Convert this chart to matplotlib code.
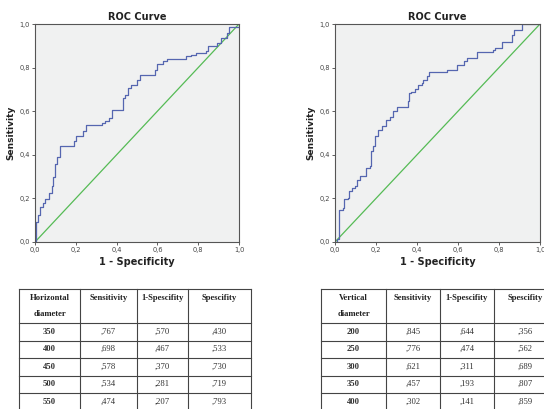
import matplotlib
matplotlib.use("Agg")
import matplotlib.pyplot as plt
from matplotlib.ticker import FuncFormatter

# ROC curve step vertices (1-specificity, sensitivity)
h_fpr = [0.0, 0.003, 0.006, 0.013, 0.023, 0.037, 0.047, 0.07, 0.083, 0.09, 0.10, 0.11, 0.124,
         0.19, 0.2, 0.235, 0.25, 0.33, 0.345, 0.365, 0.376, 0.43, 0.44, 0.458, 0.47, 0.5,
         0.515, 0.588, 0.596, 0.625, 0.645, 0.742, 0.767, 0.79, 0.84, 0.848, 0.89, 0.914,
         0.94, 0.951, 1.0]
h_tpr = [0.0, 0.06, 0.09, 0.125, 0.16, 0.18, 0.195, 0.225, 0.255, 0.30, 0.36, 0.39, 0.44,
         0.465, 0.485, 0.51, 0.535, 0.545, 0.555, 0.57, 0.605, 0.66, 0.675, 0.705, 0.72, 0.745,
         0.765, 0.79, 0.815, 0.832, 0.84, 0.852, 0.86, 0.867, 0.875, 0.90, 0.913, 0.935,
         0.96, 0.985, 1.0]

v_fpr = [0.0, 0.008, 0.018, 0.037, 0.046, 0.062, 0.068, 0.081, 0.098, 0.109, 0.122, 0.151,
         0.171, 0.176, 0.187, 0.195, 0.208, 0.228, 0.247, 0.268, 0.285, 0.30, 0.354, 0.361,
         0.37, 0.39, 0.407, 0.423, 0.43, 0.447, 0.459, 0.548, 0.593, 0.615, 0.631, 0.642,
         0.691, 0.772, 0.78, 0.813, 0.862, 0.875, 0.914, 1.0]
v_tpr = [0.0, 0.015, 0.148, 0.156, 0.195, 0.20, 0.232, 0.248, 0.255, 0.286, 0.304, 0.34,
         0.347, 0.416, 0.44, 0.485, 0.515, 0.534, 0.56, 0.573, 0.60, 0.62, 0.645, 0.683,
         0.69, 0.702, 0.722, 0.73, 0.745, 0.763, 0.778, 0.787, 0.81, 0.813, 0.83, 0.845,
         0.87, 0.88, 0.89, 0.916, 0.95, 0.974, 1.0, 1.0]

# Tables
h_head = ["Horizontal\ndiameter", "Sensitivity", "1-Spescifity", "Spescifity"]
h_thr = ["350", "400", "450", "500", "550"]
h_sens = [",767", ",698", ",578", ",534", ",474"]
h_1ms = [",570", ",467", ",370", ",281", ",207"]
h_spec = [",430", ",533", ",730", ",719", ",793"]

v_head = ["Vertical\ndiameter", "Sensitivity", "1-Spescifity", "Spescifity"]
v_thr = ["200", "250", "300", "350", "400"]
v_sens = [",845", ",776", ",621", ",457", ",302"]
v_1ms = [",644", ",474", ",311", ",193", ",141"]
v_spec = [",356", ",562", ",689", ",807", ",859"]

W, H = 544, 409
fig = plt.figure(figsize=(W / 100, H / 100), dpi=100)
fig.patch.set_facecolor("white")

BLUE = "#5566b0"
GREEN = "#55bb55"
fmt = FuncFormatter(lambda v, p: f"{v:.1f}".replace(".", ","))


def roc_axes(px_left, px_right, fpr, tpr):
    top, bottom = 24, 242
    ax = fig.add_axes([px_left / W, 1 - bottom / H, (px_right - px_left) / W, (bottom - top) / H])
    ax.set_facecolor("#f0f1f1")
    ax.plot([0, 1], [0, 1], color=GREEN, lw=0.9)
    ax.plot(fpr, tpr, color=BLUE, lw=0.9, drawstyle="steps-post")
    ax.set_xlim(0, 1)
    ax.set_ylim(0, 1)
    ax.set_xticks([0, 0.2, 0.4, 0.6, 0.8, 1.0])
    ax.set_yticks([0, 0.2, 0.4, 0.6, 0.8, 1.0])
    ax.xaxis.set_major_formatter(fmt)
    ax.yaxis.set_major_formatter(fmt)
    ax.tick_params(labelsize=4.8, length=2.5, width=0.6, pad=1, colors="#444444")
    for s in ax.spines.values():
        s.set_color("#555555")
        s.set_linewidth(0.8)
    ax.set_title("ROC Curve", fontsize=7, fontweight="bold", pad=3, color="#222222")
    ax.set_xlabel("1 - Specificity", fontsize=7, fontweight="bold", labelpad=3, color="#222222")
    ax.set_ylabel("Sensitivity", fontsize=6.5, fontweight="bold", labelpad=3, color="#222222")
    return ax


roc_axes(35, 239, h_fpr, h_tpr)
roc_axes(335, 540, v_fpr, v_tpr)

# table overlay in pixel coordinates
ov = fig.add_axes([0, 0, 1, 1])
ov.set_xlim(0, W)
ov.set_ylim(H, 0)
ov.axis("off")

SERIF = "Liberation Serif"


def table(xs, head, thr, sens, oms, spec):
    ys = [289, 323, 340.5, 358, 375.5, 393, 410.5]
    lc = "#444444"
    for y in ys:
        ov.plot([xs[0], xs[-1]], [y, y], color=lc, lw=0.8, clip_on=False)
    for x in xs:
        ov.plot([x, x], [ys[0], ys[-1]], color=lc, lw=0.8, clip_on=False)
    cx = [(xs[i] + xs[i + 1]) / 2 for i in range(4)]
    for i, h in enumerate(head):
        lines = h.split("\n")
        for j, line in enumerate(lines):
            ov.text(cx[i], 298 + j * 16, line, ha="center", va="center", fontsize=6.2,
                    fontweight="bold", family=SERIF, color="#222222")
    cols = [thr, sens, oms, spec]
    for r in range(len(thr)):
        yc = (ys[r + 1] + ys[r + 2]) / 2
        for c in range(4):
            ov.text(cx[c], yc, cols[c][r], ha="center", va="center", fontsize=6.2,
                    fontweight="bold" if c == 0 else "normal", family=SERIF, color="#333333")


table([19, 80, 137, 188, 251], h_head, h_thr, h_sens, h_1ms, h_spec)
table([321, 386, 440, 494, 556], v_head, v_thr, v_sens, v_1ms, v_spec)

fig.savefig("out.png", dpi=100)
